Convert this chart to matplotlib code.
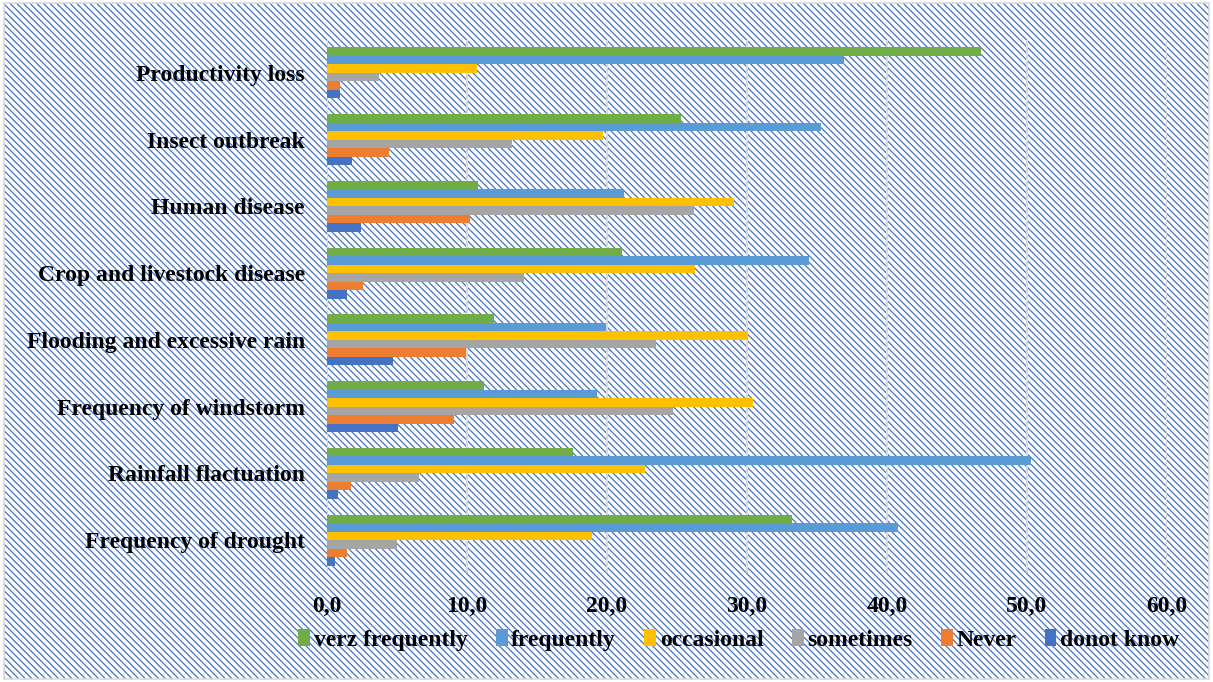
import matplotlib
matplotlib.use("Agg")
import matplotlib.pyplot as plt
import numpy as np
from matplotlib.patches import Rectangle

categories = ["Productivity loss", "Insect outbreak", "Human disease",
              "Crop and livestock disease", "Flooding and excessive rain",
              "Frequency of windstorm", "Rainfall flactuation", "Frequency of drought"]

series_names = ["verz frequently", "frequently", "occasional", "sometimes", "Never", "donot know"]
colors = ["#70AD47", "#5B9BD5", "#FFC000", "#A5A5A5", "#ED7D31", "#4472C4"]

verz_frequently = [46.7, 25.3, 10.8, 21.1, 11.9, 11.2, 17.6, 33.2]
frequently      = [36.9, 35.3, 21.2, 34.4, 19.9, 19.3, 50.3, 40.8]
occasional      = [10.7, 19.7, 29.1, 26.3, 30.1, 30.4, 22.7, 18.9]
sometimes       = [3.7, 13.2, 26.2, 14.1, 23.5, 24.7, 6.6, 5.0]
never           = [0.9, 4.4, 10.2, 2.6, 9.9, 9.1, 1.7, 1.4]
donot_know      = [0.9, 1.8, 2.4, 1.4, 4.7, 5.1, 0.8, 0.6]

x_ticks = [0, 10, 20, 30, 40, 50, 60]
x_tick_labels = ["0,0", "10,0", "20,0", "30,0", "40,0", "50,0", "60,0"]

series = [verz_frequently, frequently, occasional, sometimes, never, donot_know]

plt.rcParams["hatch.linewidth"] = 0.9
font = {"family": "Liberation Serif", "weight": "bold", "size": 17}

fig = plt.figure(figsize=(12.13, 6.82), dpi=100)
fig.patch.set_facecolor("white")
bg = Rectangle((0.003, 0.004), 0.994, 0.991, transform=fig.transFigure,
               facecolor="white", edgecolor="#4472C4", hatch="\\" * 5, lw=0, zorder=-10)
fig.patches.append(bg)
border = Rectangle((0.003, 0.004), 0.994, 0.991, transform=fig.transFigure,
                   facecolor="none", edgecolor="#D9D9D9", lw=1.2, zorder=-9)
fig.patches.append(border)

ax = fig.add_axes([0.2696, 0.1592, 0.6924, 0.7828])
ax.set_facecolor("none")
n = len(categories)
y = np.arange(n)
h = 0.1275
for j, (vals, c, name) in enumerate(zip(series, colors, series_names)):
    ax.barh(y + (j - 2.5) * h, vals, height=h, color=c, label=name, zorder=3)

ax.set_xlim(0, 60)
ax.set_ylim(n - 0.5, -0.5)
ax.set_xticks(x_ticks)
ax.set_xticklabels(x_tick_labels, fontdict=font)
ax.set_yticks(y)
ax.set_yticklabels(categories, fontdict=font)
ax.tick_params(axis="x", length=0, pad=16)
ax.tick_params(axis="y", length=0, pad=16)
ax.grid(axis="x", color="#D9D9D9", lw=1.5, zorder=0)
ax.set_axisbelow(True)
for s in ax.spines.values():
    s.set_visible(False)

handles = [Rectangle((0, 0), 1, 1, facecolor=c) for c in colors]
fig.legend(handles, series_names, loc="center", bbox_to_anchor=(0.609, 0.0616),
           ncol=6, frameon=False, prop={"family": "Liberation Serif", "weight": "bold", "size": 17},
           handlelength=0.5, handleheight=0.7, handletextpad=0.15, columnspacing=1.2)

fig.savefig("out.png", dpi=100)
